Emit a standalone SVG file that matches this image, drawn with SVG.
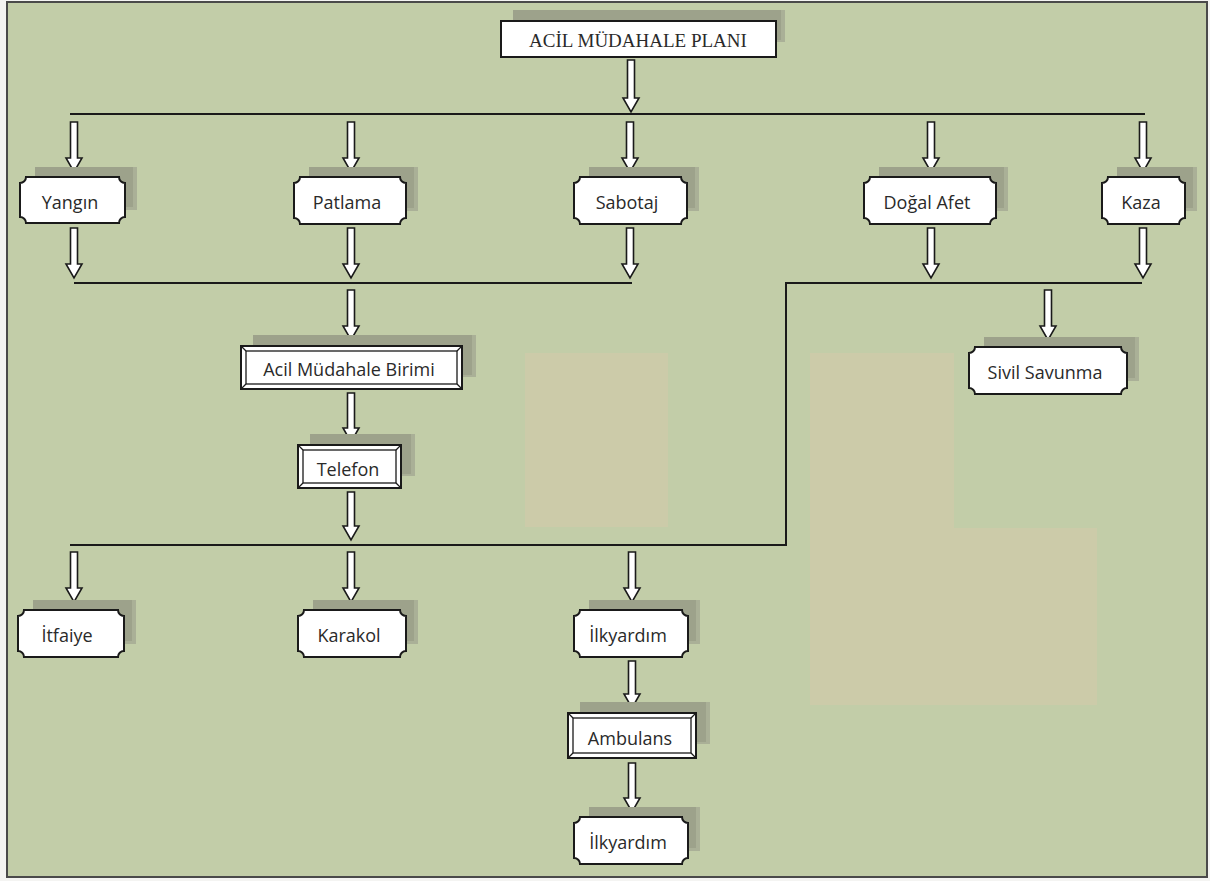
<svg xmlns="http://www.w3.org/2000/svg" width="1210" height="881" viewBox="0 0 1210 881">
<style>
.bg{fill:#c2cda8}
.frame{fill:none;stroke:#4a4a4a;stroke-width:2}
.beige{fill:#cccba9}
.sh{fill:#9da28b}
.sh2{fill:#aab097}
.box{fill:#ffffff;stroke:#1a1a1a;stroke-width:2}
.inner{fill:none;stroke:#1a1a1a;stroke-width:1.3}
.arr{fill:#ffffff;stroke:#1a1a1a;stroke-width:1.6;stroke-linejoin:miter}
.ln{fill:none;stroke:#1a1a1a;stroke-width:2}
.t{font-family:"Open Sans","Noto Sans","Liberation Sans",sans-serif;font-size:18px;fill:#2a2a2a;text-anchor:middle}
.tt{font-family:"Liberation Serif","Times New Roman",serif;font-size:19px;fill:#2a2a2a;text-anchor:middle}
</style>
<rect x="0" y="0" width="1210" height="881" fill="#f4f4f2"/>
<rect class="bg" x="7" y="2" width="1200" height="875"/>
<rect class="frame" x="7" y="2" width="1200" height="875"/>
<g id="background-patches">
<rect class="beige" x="525" y="353" width="143" height="174"/>
<path class="beige" d="M810 353 H954 V528 H1097 V705 H810 Z"/>
</g>
<g id="connectors">
<path class="ln" d="M70 114 H1145"/>
<path class="ln" d="M74 283 H632"/>
<path class="ln" d="M1142 283 H786 V545 H70"/>
<path class="arr" d="M627.5 60 H634.5 V98 H639 L631 112 L623 98 H627.5 Z"/>
<path class="arr" d="M70.5 122 H77.5 V158 H82 L74 172 L66 158 H70.5 Z"/>
<path class="arr" d="M347.5 122 H354.5 V158 H359 L351 172 L343 158 H347.5 Z"/>
<path class="arr" d="M626.5 122 H633.5 V158 H638 L630 172 L622 158 H626.5 Z"/>
<path class="arr" d="M927.5 122 H934.5 V158 H939 L931 172 L923 158 H927.5 Z"/>
<path class="arr" d="M1139.5 122 H1146.5 V158 H1151 L1143 172 L1135 158 H1139.5 Z"/>
<path class="arr" d="M70.5 228 H77.5 V264 H82 L74 278 L66 264 H70.5 Z"/>
<path class="arr" d="M347.5 228 H354.5 V264 H359 L351 278 L343 264 H347.5 Z"/>
<path class="arr" d="M626.5 228 H633.5 V264 H638 L630 278 L622 264 H626.5 Z"/>
<path class="arr" d="M927.5 228 H934.5 V264 H939 L931 278 L923 264 H927.5 Z"/>
<path class="arr" d="M1139.5 228 H1146.5 V264 H1151 L1143 278 L1135 264 H1139.5 Z"/>
<path class="arr" d="M347.5 290 H354.5 V326 H359 L351 340 L343 326 H347.5 Z"/>
<path class="arr" d="M1044.5 290 H1051.5 V326 H1056 L1048 340 L1040 326 H1044.5 Z"/>
<path class="arr" d="M347.5 393 H354.5 V428 H359 L351 442 L343 428 H347.5 Z"/>
<path class="arr" d="M347.5 492 H354.5 V526 H359 L351 540 L343 526 H347.5 Z"/>
<path class="arr" d="M70.5 552 H77.5 V588 H82 L74 602 L66 588 H70.5 Z"/>
<path class="arr" d="M347.5 552 H354.5 V588 H359 L351 602 L343 588 H347.5 Z"/>
<path class="arr" d="M628.5 552 H635.5 V588 H640 L632 602 L624 588 H628.5 Z"/>
<path class="arr" d="M628.5 661 H635.5 V694 H640 L632 708 L624 694 H628.5 Z"/>
<path class="arr" d="M628.5 763 H635.5 V798 H640 L632 812 L624 798 H628.5 Z"/>
</g>
<g id="title">
<rect class="sh2" x="513" y="10" width="272" height="32"/>
<rect class="sh" x="513" y="10" width="268" height="30"/>
<rect class="box" x="501" y="21" width="275" height="36"/>
<text class="tt" x="638" y="47">ACİL MÜDAHALE PLANI</text>
</g>
<g id="yangin">
<rect class="sh2" x="35" y="167" width="102" height="43"/>
<rect class="sh" x="35" y="167" width="98" height="40"/>
<path class="box" d="M26 177 H119 A6 6 0 0 0 125 183 V217 A6 6 0 0 0 119 223 H26 A6 6 0 0 0 20 217 V183 A6 6 0 0 0 26 177 Z"/>
<text class="t" x="70" y="209">Yangın</text>
</g>
<g id="patlama">
<rect class="sh2" x="309" y="167" width="109" height="44"/>
<rect class="sh" x="309" y="167" width="105" height="41"/>
<path class="box" d="M300 177 H400 A6 6 0 0 0 406 183 V218 A6 6 0 0 0 400 224 H300 A6 6 0 0 0 294 218 V183 A6 6 0 0 0 300 177 Z"/>
<text class="t" x="347" y="209">Patlama</text>
</g>
<g id="sabotaj">
<rect class="sh2" x="589" y="167" width="110" height="44"/>
<rect class="sh" x="589" y="167" width="106" height="41"/>
<path class="box" d="M580 177 H681 A6 6 0 0 0 687 183 V218 A6 6 0 0 0 681 224 H580 A6 6 0 0 0 574 218 V183 A6 6 0 0 0 580 177 Z"/>
<text class="t" x="627" y="209">Sabotaj</text>
</g>
<g id="dogal-afet">
<rect class="sh2" x="879" y="167" width="129" height="44"/>
<rect class="sh" x="879" y="167" width="125" height="41"/>
<path class="box" d="M870 177 H990 A6 6 0 0 0 996 183 V218 A6 6 0 0 0 990 224 H870 A6 6 0 0 0 864 218 V183 A6 6 0 0 0 870 177 Z"/>
<text class="t" x="927" y="209">Doğal Afet</text>
</g>
<g id="kaza">
<rect class="sh2" x="1117" y="167" width="80" height="44"/>
<rect class="sh" x="1117" y="167" width="76" height="41"/>
<path class="box" d="M1108 177 H1179 A6 6 0 0 0 1185 183 V218 A6 6 0 0 0 1179 224 H1108 A6 6 0 0 0 1102 218 V183 A6 6 0 0 0 1108 177 Z"/>
<text class="t" x="1141" y="209">Kaza</text>
</g>
<g id="acil-mudahale-birimi">
<rect class="sh2" x="253" y="335" width="223" height="42"/>
<rect class="sh" x="253" y="335" width="219" height="40"/>
<rect class="box" x="241" y="346" width="221" height="43"/>
<rect class="inner" x="246" y="351" width="211" height="33"/>
<path class="inner" d="M241 346 L246 351 M462 346 L457 351 M462 389 L457 384 M241 389 L246 384"/>
<text class="t" x="349" y="376">Acil Müdahale Birimi</text>
</g>
<g id="sivil-savunma">
<rect class="sh2" x="984" y="337" width="155" height="44"/>
<rect class="sh" x="984" y="337" width="151" height="41"/>
<path class="box" d="M975 347 H1121 A6 6 0 0 0 1127 353 V388 A6 6 0 0 0 1121 394 H975 A6 6 0 0 0 969 388 V353 A6 6 0 0 0 975 347 Z"/>
<text class="t" x="1045" y="379">Sivil Savunma</text>
</g>
<g id="telefon">
<rect class="sh2" x="310" y="434" width="105" height="42"/>
<rect class="sh" x="310" y="434" width="101" height="40"/>
<rect class="box" x="298" y="445" width="103" height="43"/>
<rect class="inner" x="303" y="450" width="93" height="33"/>
<path class="inner" d="M298 445 L303 450 M401 445 L396 450 M401 488 L396 483 M298 488 L303 483"/>
<text class="t" x="348" y="476">Telefon</text>
</g>
<g id="itfaiye">
<rect class="sh2" x="33" y="600" width="103" height="44"/>
<rect class="sh" x="33" y="600" width="99" height="41"/>
<path class="box" d="M24 610 H118 A6 6 0 0 0 124 616 V651 A6 6 0 0 0 118 657 H24 A6 6 0 0 0 18 651 V616 A6 6 0 0 0 24 610 Z"/>
<text class="t" x="67" y="642">İtfaiye</text>
</g>
<g id="karakol">
<rect class="sh2" x="313" y="600" width="105" height="44"/>
<rect class="sh" x="313" y="600" width="101" height="41"/>
<path class="box" d="M304 610 H400 A6 6 0 0 0 406 616 V651 A6 6 0 0 0 400 657 H304 A6 6 0 0 0 298 651 V616 A6 6 0 0 0 304 610 Z"/>
<text class="t" x="349" y="642">Karakol</text>
</g>
<g id="ilkyardim-1">
<rect class="sh2" x="589" y="600" width="111" height="44"/>
<rect class="sh" x="589" y="600" width="107" height="41"/>
<path class="box" d="M580 610 H682 A6 6 0 0 0 688 616 V651 A6 6 0 0 0 682 657 H580 A6 6 0 0 0 574 651 V616 A6 6 0 0 0 580 610 Z"/>
<text class="t" x="628" y="642">İlkyardım</text>
</g>
<g id="ambulans">
<rect class="sh2" x="580" y="702" width="130" height="42"/>
<rect class="sh" x="580" y="702" width="126" height="40"/>
<rect class="box" x="568" y="713" width="128" height="45"/>
<rect class="inner" x="573" y="718" width="118" height="35"/>
<path class="inner" d="M568 713 L573 718 M696 713 L691 718 M696 758 L691 753 M568 758 L573 753"/>
<text class="t" x="630" y="745">Ambulans</text>
</g>
<g id="ilkyardim-2">
<rect class="sh2" x="589" y="807" width="111" height="44"/>
<rect class="sh" x="589" y="807" width="107" height="41"/>
<path class="box" d="M580 817 H682 A6 6 0 0 0 688 823 V858 A6 6 0 0 0 682 864 H580 A6 6 0 0 0 574 858 V823 A6 6 0 0 0 580 817 Z"/>
<text class="t" x="628" y="849">İlkyardım</text>
</g>
</svg>
